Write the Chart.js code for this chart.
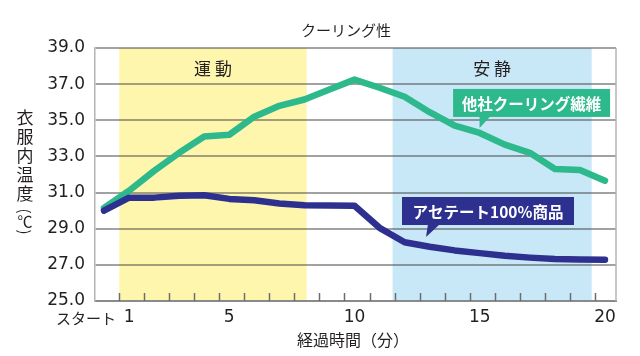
<!DOCTYPE html>
<html><head><meta charset="utf-8">
<script src="https://cdn.jsdelivr.net/npm/chart.js@4"></script>
<style>body{margin:0;background:#fff}canvas{display:block}</style>
</head><body>
<canvas id="c" width="640" height="356"></canvas>
<script>
const minutes = [0,1,2,3,4,5,6,7,8,9,10,11,12,13,14,15,16,17,18,19,20];
const competitor = [30.15,31.1,32.2,33.2,34.1,34.2,35.2,35.8,36.15,36.7,37.25,36.8,36.3,35.45,34.7,34.3,33.65,33.2,32.3,32.25,31.65];
const acetate = [30.0,30.72,30.72,30.83,30.85,30.65,30.57,30.4,30.3,30.28,30.27,29.05,28.25,28.0,27.8,27.65,27.5,27.4,27.33,27.3,27.28];
const xTickValues = [1,5,10,15,20];
const startLabel = 'スタート';
const yTicks = [25,27,29,31,33,35,37,39];
const phases = [
  {label:'運 動', from:0.61, to:8.09, color:'#fff6ae'},
  {label:'安 静', from:11.52, to:19.47, color:'#c8e7f7'}
];
const seriesNames = ['アセテート100%商品','他社クーリング繊維'];
const title = 'クーリング性';
const yTitle = ['衣','服','内','温','度','(','℃',')'];
const xTitle = '経過時間（分）';

const GREEN = '#2db98c', NAVY = '#2e3090', TXT = '#231f20';
const JP = '"Noto Sans CJK JP","Noto Sans",sans-serif';

const bandPlugin = {
  id:'bands',
  beforeDraw(chart){
    const {ctx, chartArea:a, scales:{x}} = chart;
    ctx.save();
    phases.forEach(p=>{
      const x1 = x.getPixelForValue(p.from), x2 = x.getPixelForValue(p.to);
      ctx.fillStyle = p.color;
      ctx.fillRect(x1, a.top, x2-x1, a.bottom-a.top);
    });
    ctx.restore();
  }
};

function callout(ctx, cx, cy, w, h, tail, color, text){
  ctx.save();
  ctx.fillStyle = color;
  ctx.fillRect(cx-w/2, cy-h/2, w, h);
  ctx.beginPath();
  ctx.moveTo(cx + tail[0], cy+h/2-1);
  ctx.lineTo(cx + tail[1], cy+h/2-1);
  ctx.lineTo(cx + tail[2], cy+h/2+tail[3]);
  ctx.closePath();
  ctx.fill();
  ctx.fillStyle = '#fff';
  ctx.font = 'bold 15.5px ' + JP;
  ctx.textAlign = 'center';
  ctx.textBaseline = 'middle';
  ctx.fillText(text, cx, cy+1);
  ctx.restore();
}

const decoPlugin = {
  id:'deco',
  afterDatasetsDraw(chart){
    const {ctx, chartArea:a, scales:{x,y}} = chart;
    ctx.save();
    // tick marks
    ctx.strokeStyle = '#6d6d6d'; ctx.lineWidth = 1.5;
    for(let k=0;k<20;k++){
      const px = Math.round(x.getPixelForValue(k+0.6))+0.5;
      ctx.beginPath(); ctx.moveTo(px, a.bottom); ctx.lineTo(px, a.bottom-8); ctx.stroke();
    }
    // right border
    ctx.strokeStyle = '#b4b4b4'; ctx.lineWidth = 1.5;
    ctx.beginPath(); ctx.moveTo(a.right, a.top); ctx.lineTo(a.right, a.bottom); ctx.stroke();
    // phase labels
    ctx.fillStyle = TXT; ctx.font = '17px ' + JP; ctx.textAlign='center'; ctx.textBaseline='middle';
    phases.forEach(p=>{
      ctx.fillText(p.label, (x.getPixelForValue(p.from)+x.getPixelForValue(p.to))/2, a.top+21);
    });
    // title
    ctx.font = '15px ' + JP;
    ctx.fillText(title, 346, 30);
    // x title
    ctx.font = '16px ' + JP;
    ctx.fillText(xTitle, 353, 340);
    // start label
    ctx.font = '15px ' + JP; ctx.textAlign='right';
    ctx.fillText(startLabel, x.getPixelForValue(0)+12, 318);
    // y title vertical
    ctx.textAlign='center';
    const ys = [118,137,156,175,194,211,221,232];
    yTitle.forEach((ch,i)=>{
      if(ch==='('||ch===')'){
        ctx.save(); ctx.translate(25, ys[i]); ctx.rotate(Math.PI/2);
        ctx.font = '15px ' + JP; ctx.fillText(ch, 0, 0); ctx.restore();
      } else {
        ctx.font = (ch==='℃'?'15px ':'17px ') + JP;
        ctx.fillText(ch, 25, ys[i]);
      }
    });
    // callouts
    callout(ctx, x.getPixelForValue(17.07), y.getPixelForValue(35.96), 157, 28, [-52,-41,-52,11], GREEN, seriesNames[1]);
    callout(ctx, x.getPixelForValue(15.33), y.getPixelForValue(29.98), 172, 28, [-60,-48,-62,12], NAVY, seriesNames[0]);
    ctx.restore();
  }
};

new Chart(document.getElementById('c'), {
  type:'line',
  data:{
    labels: minutes,
    datasets:[
      {label:seriesNames[0], data:minutes.map((m,i)=>({x:m,y:acetate[i]})), borderColor:NAVY, borderWidth:6.5, pointRadius:0, tension:0, borderCapStyle:'round', borderJoinStyle:'round'},
      {label:seriesNames[1], data:minutes.map((m,i)=>({x:m,y:competitor[i]})), borderColor:GREEN, borderWidth:6.5, pointRadius:0, tension:0, borderCapStyle:'round', borderJoinStyle:'round'}
    ]
  },
  options:{
    responsive:false, devicePixelRatio:1, animation:false,
    layout:{padding:{top:48,right:24,left:0,bottom:0}},
    plugins:{legend:{display:false}, tooltip:{enabled:false}},
    scales:{
      x:{type:'linear', min:-0.36, max:20.44,
        afterBuildTicks(s){ s.ticks = xTickValues.map(v=>({value:v})); },
        afterFit(s){ s.height = 55; },
        grid:{display:false, drawTicks:false},
        border:{display:true, color:'#8a8a8a', width:2},
        ticks:{font:{family:'"DejaVu Sans"', size:17}, color:TXT, padding:6, maxRotation:0, autoSkip:false,
          callback:(v)=>String(v)}
      },
      y:{min:25, max:39,
        afterBuildTicks(s){ s.ticks = yTicks.map(v=>({value:v})); },
        afterFit(s){ s.width = 95; },
        grid:{color:'rgba(70,70,70,0.5)', lineWidth:2, drawTicks:false},
        border:{display:true, color:'#b4b4b4', width:1.5},
        ticks:{font:{family:'"DejaVu Sans"', size:17}, color:TXT, padding:10, callback:(v)=>v.toFixed(1)}
      }
    }
  },
  plugins:[bandPlugin, decoPlugin]
});
</script>
</body></html>
